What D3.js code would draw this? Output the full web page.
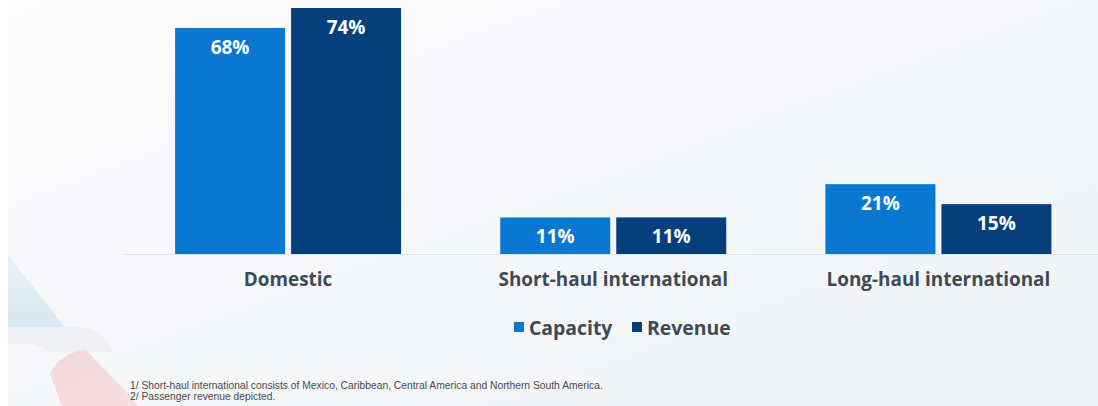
<!DOCTYPE html>
<html><head><meta charset="utf-8">
<script src="https://cdn.jsdelivr.net/npm/d3@7"></script>
<style>html,body{margin:0;padding:0;background:#fff;}svg{display:block;}</style>
</head><body>
<svg id="chart" width="1098" height="406"></svg>
<script>
const categories = ["Domestic", "Short-haul international", "Long-haul international"];
const seriesNames = ["Capacity", "Revenue"];
const capacity = [68, 11, 21];
const revenue = [74, 11, 15];
const footnotes = [
  "1/ Short-haul international consists of Mexico, Caribbean, Central America and Northern South America.",
  "2/ Passenger revenue depicted."
];
const colors = ["#0a78d1", "#063f7c"];

const svg = d3.select("#chart");
const W = 1098, H = 406;

// background
const defs = svg.append("defs");
const bg = defs.append("linearGradient").attr("id","bg").attr("x1","0").attr("y1","0").attr("x2","1").attr("y2","1");
bg.append("stop").attr("offset","0").attr("stop-color","#fbfbfc");
bg.append("stop").attr("offset","1").attr("stop-color","#f1f3f6");
svg.append("rect").attr("width",W).attr("height",H).attr("fill","url(#bg)");
svg.append("rect").attr("width",8).attr("height",H).attr("fill","#ffffff");

// faint logo shapes bottom-left
const gb = defs.append("linearGradient").attr("id","gblue").attr("x1","0").attr("y1","0").attr("x2","0").attr("y2","1");
gb.append("stop").attr("offset","0").attr("stop-color","#e6f1f7");
gb.append("stop").attr("offset","1").attr("stop-color","#d9e8f1");
svg.append("path").attr("d","M8,255 L65,327 L8,327 Z").attr("fill","url(#gblue)");
svg.append("path").attr("d","M8,327 L80,327 Q106,330 112,352 L50,352 Q30,340 8,345 Z").attr("fill","#eff0f3");
const gr = defs.append("linearGradient").attr("id","gred").attr("x1","0").attr("y1","0").attr("x2","1").attr("y2","1");
gr.append("stop").attr("offset","0").attr("stop-color","#f2d6da");
gr.append("stop").attr("offset","1").attr("stop-color","#f6e0e3");
svg.append("path").attr("d","M50,374 Q60,352 86,350 L130,396 Q136,402 138,406 L62,406 Z").attr("fill","url(#gred)");

// scales
const baseline = 254;
const y = d3.scaleLinear().domain([0, 74]).range([baseline, 8]);
const x0 = d3.scaleBand().domain(categories).range([125.5, 1101]).paddingInner(0).paddingOuter(0);

// axis line
svg.append("line").attr("x1",125).attr("x2",W).attr("y1",baseline+0.5).attr("y2",baseline+0.5)
  .attr("stroke","#dfe2e6").attr("stroke-width",1);

const data = categories.map((c,i)=>({cat:c, vals:[{s:"Capacity",v:capacity[i]},{s:"Revenue",v:revenue[i]}]}));
const bw = 110, gap = 6;
const g = svg.selectAll("g.grp").data(data).join("g")
  .attr("transform", d => `translate(${x0(d.cat) + x0.bandwidth()/2 - bw - gap/2},0)`);

g.selectAll("rect").data(d=>d.vals).join("rect")
  .attr("x",(d,i)=> i*(bw+gap))
  .attr("y", d=> y(d.v))
  .attr("width", bw)
  .attr("height", d=> baseline - y(d.v))
  .attr("fill",(d,i)=>colors[i]);

g.selectAll("text.val").data(d=>d.vals).join("text").attr("class","val")
  .attr("x",(d,i)=> i*(bw+gap) + bw/2)
  .attr("y", d=> y(d.v) + 26)
  .attr("text-anchor","middle")
  .attr("fill","#fff")
  .attr("font-family","'Open Sans', sans-serif")
  .attr("font-weight",700)
  .attr("font-size",19)
  .text(d=> d.v + "%");

// category labels
svg.selectAll("text.cat").data(categories).join("text").attr("class","cat")
  .attr("x", d=> x0(d) + x0.bandwidth()/2)
  .attr("y", 286)
  .attr("text-anchor","middle")
  .attr("fill","#3d4a57")
  .attr("font-family","'Open Sans', sans-serif")
  .attr("font-weight",700)
  .attr("font-size",18.9)
  .text(d=>d);

// legend
const legX = [514, 632];
const leg = svg.selectAll("g.leg").data(seriesNames).join("g").attr("class","leg")
  .attr("transform",(d,i)=>`translate(${legX[i]},0)`);
leg.append("rect").attr("x",0).attr("y",322).attr("width",10).attr("height",10).attr("fill",(d,i)=>colors[i]);
leg.append("text").attr("x",15).attr("y",335)
  .attr("fill","#3d4a57")
  .attr("font-family","'Open Sans', sans-serif")
  .attr("font-weight",700)
  .attr("font-size",19.4)
  .text(d=>d);

// footnotes
svg.selectAll("text.fn").data(footnotes).join("text").attr("class","fn")
  .attr("x",130).attr("y",(d,i)=>389 + i*11)
  .attr("fill","#4a4a4a")
  .attr("font-family","'Liberation Sans', Arial, sans-serif")
  .attr("font-size",10.3)
  .text(d=>d);
</script>
</body></html>
